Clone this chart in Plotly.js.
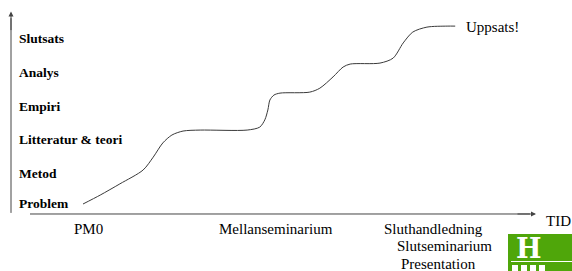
<!DOCTYPE html>
<html>
<head>
<meta charset="utf-8">
<script src="https://cdn.plot.ly/plotly-3.0.1.min.js"></script>
<style>html,body{margin:0;padding:0;background:#fff;}#chart{width:572px;height:271px;}</style>
</head>
<body>
<div id="chart"></div>
<script>
// ---- Data ----
// Progress curve: time (0..100 along the TID axis) vs. stage level (0 = Problem ... 5 = Slutsats)
const curveTime  = [10.5, 13.9, 17.8, 22.4, 24.4, 26.3, 28.1, 30.3, 33.7, 43.0, 45.5, 46.5, 47.1, 47.5, 48.3, 49.5, 55.4, 57.4, 60.0, 62.0, 63.4, 69.3, 71.9, 73.9, 75.8, 78.6, 82.6, 84.2];
const curveLevel = [-0.03, 0.24, 0.58, 1.0, 1.39, 1.82, 2.06, 2.18, 2.21, 2.21, 2.30, 2.52, 2.82, 3.12, 3.27, 3.33, 3.36, 3.48, 3.82, 4.12, 4.21, 4.24, 4.39, 4.85, 5.18, 5.33, 5.36, 5.36];

// Stage labels on the vertical axis
const stages      = ['Problem', 'Metod', 'Litteratur & teori', 'Empiri', 'Analys', 'Slutsats'];
const stageLevels = [0, 0.9, 1.91, 2.91, 3.94, 4.98];

// Milestones along the time axis
const milestones     = ['PM0', 'Mellanseminarium', 'Sluthandledning', 'Slutseminarium', 'Presentation'];
const milestoneTimes = [11.5, 48.7, 79.9, 82.0, 80.8];
const milestoneRows  = [0, 0, 0, 1, 2];

const endLabel = 'Uppsats!';
const xAxisLabel = 'TID';

// ---- Layout helpers ----
const W = 572, H = 271;
const px = x => x / W;          // pixel -> paper (decoration only)
const py = y => 1 - y / H;
const serif = '"Liberation Serif", "Times New Roman", Times, "DejaVu Serif", serif';
const axisColor = '#444';

const annotations = [];
stages.forEach((s, i) => annotations.push({
  x: -2.57, y: stageLevels[i], xref: 'x', yref: 'y', text: '<b>' + s + '</b>',
  showarrow: false, xanchor: 'left', yanchor: 'middle',
  font: {family: serif, size: 13.5, color: '#000'}
}));
milestones.forEach((m, i) => annotations.push({
  x: milestoneTimes[i], y: -0.78 - 0.53 * milestoneRows[i], xref: 'x', yref: 'y', text: m,
  showarrow: false, xanchor: 'center', yanchor: 'middle',
  font: {family: serif, size: 15, color: '#000'}
}));
annotations.push({
  x: 104.7, y: -0.55, xref: 'x', yref: 'y', text: xAxisLabel, showarrow: false,
  xanchor: 'center', yanchor: 'middle', font: {family: serif, size: 15, color: '#000'}
});
annotations.push({
  x: curveTime[curveTime.length - 1] + 1.8, y: curveLevel[curveLevel.length - 1] - 0.02,
  xref: 'x', yref: 'y', text: endLabel, showarrow: false,
  xanchor: 'left', yanchor: 'middle', font: {family: serif, size: 15, color: '#000'}
});
// axis arrowheads
annotations.push({x: -3.76, y: 5.8, xref: 'x', yref: 'y', text: '', showarrow: true,
  ax: 0, ay: 20, arrowhead: 2, arrowsize: 1, arrowwidth: 1, arrowcolor: axisColor, standoff: 0});
annotations.push({x: 100.2, y: -0.333, xref: 'x', yref: 'y', text: '', showarrow: true,
  ax: -20, ay: 0, arrowhead: 2, arrowsize: 1, arrowwidth: 1, arrowcolor: axisColor, standoff: 0});
// logo letter
annotations.push({x: px(528.5), y: py(248), xref: 'paper', yref: 'paper', text: '<b>H</b>',
  showarrow: false, xanchor: 'center', yanchor: 'middle',
  font: {family: '"DejaVu Serif", serif', size: 27, color: '#fff'}});

const shapes = [
  // vertical axis
  {type: 'line', xref: 'x', yref: 'y', x0: -3.76, x1: -3.76, y0: -0.30, y1: 5.6, line: {color: axisColor, width: 1}},
  // horizontal axis
  {type: 'line', xref: 'x', yref: 'y', x0: 0, x1: 99, y0: -0.333, y1: -0.333, line: {color: axisColor, width: 1}},
  // logo
  {type: 'rect', xref: 'paper', yref: 'paper', x0: px(508), x1: px(573), y0: py(271), y1: py(234),
   fillcolor: '#4fa60a', line: {width: 0}, layer: 'below'},
  {type: 'line', xref: 'paper', yref: 'paper', x0: px(511), x1: px(573), y0: py(261.5), y1: py(261.5),
   line: {color: '#fff', width: 1.2}},
];
[[512, 518], [521, 527], [530, 536], [539, 545]].forEach(([a, b]) => shapes.push({
  type: 'rect', xref: 'paper', yref: 'paper', x0: px(a), x1: px(b), y0: py(272), y1: py(265),
  fillcolor: '#fff', line: {width: 0}
}));

const trace = {
  x: curveTime, y: curveLevel, type: 'scatter', mode: 'lines',
  line: {color: '#3a3a3a', width: 1, shape: 'spline', smoothing: 0.8},
  hoverinfo: 'skip'
};

const layout = {
  width: W, height: H,
  margin: {l: 0, r: 0, t: 0, b: 0, pad: 0},
  paper_bgcolor: '#fff', plot_bgcolor: '#fff',
  showlegend: false,
  font: {family: serif},
  xaxis: {range: [-30 / 5.05, (W - 30) / 5.05], visible: false, fixedrange: true},
  yaxis: {range: [(203 - H) / 33, 203 / 33], visible: false, fixedrange: true},
  annotations: annotations,
  shapes: shapes
};

Plotly.newPlot('chart', [trace], layout, {displayModeBar: false, staticPlot: true});
</script>
</body>
</html>
